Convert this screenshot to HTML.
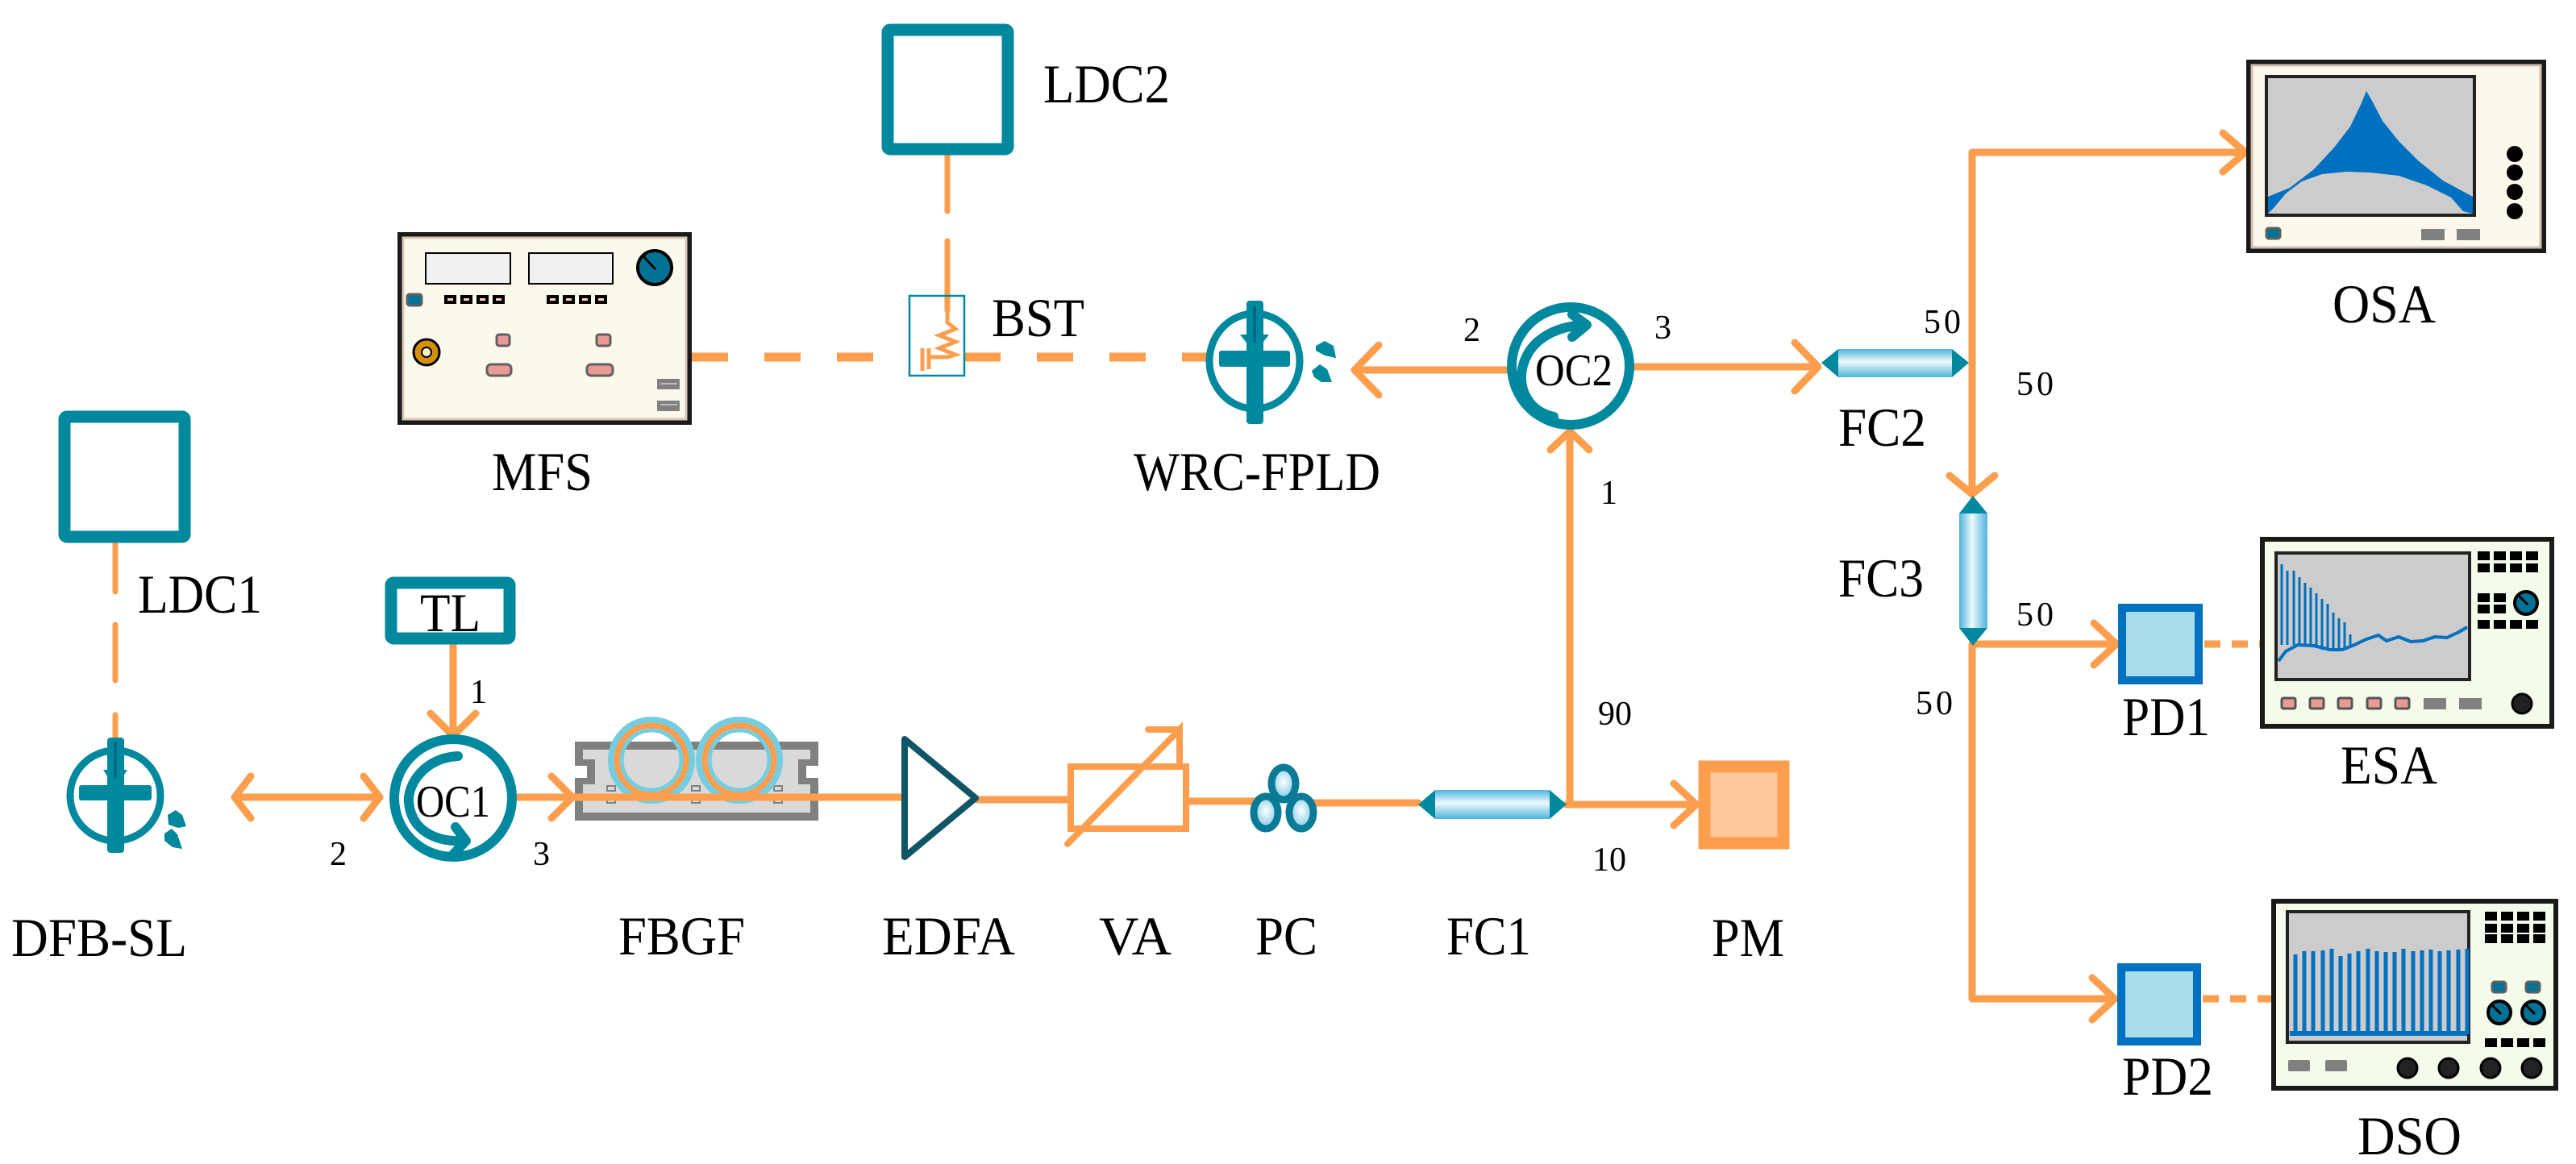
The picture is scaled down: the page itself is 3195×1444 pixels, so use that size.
<!DOCTYPE html>
<html><head><meta charset="utf-8">
<style>
html,body{margin:0;padding:0;background:#fff;}
svg{display:block;}
text{font-family:"Liberation Serif","DejaVu Serif",serif;fill:#000;}
</style></head>
<body>
<svg width="3195" height="1444" viewBox="0 0 3195 1444" xmlns="http://www.w3.org/2000/svg">
<defs>
<linearGradient id="cpl" x1="0" y1="0" x2="0" y2="1">
<stop offset="0" stop-color="#4fb3dc"/><stop offset="0.45" stop-color="#eef9fd"/><stop offset="1" stop-color="#4fb3dc"/>
</linearGradient>
<linearGradient id="cplv" x1="0" y1="0" x2="1" y2="0">
<stop offset="0" stop-color="#4fb3dc"/><stop offset="0.45" stop-color="#eef9fd"/><stop offset="1" stop-color="#4fb3dc"/>
</linearGradient>
<radialGradient id="pcg" cx="0.5" cy="0.45" r="0.6">
<stop offset="0" stop-color="#ffffff"/><stop offset="1" stop-color="#6cc3e0"/>
</radialGradient>
</defs>

<g fill="none" stroke="#fd9e4e" stroke-linecap="round" stroke-linejoin="round">
<path d="M1175 192 V262 M1175 299 V385" stroke-width="7"/>
<path d="M858 443 H1128 M1196 443 H1497" stroke-width="11" stroke-dasharray="45 45" stroke-linecap="butt"/>
<path d="M143 673 V734 M143 775 V844 M143 887 V915" stroke-width="7"/>
<path d="M1869 459 H1680 M1710 428 L1680 459 L1710 490" stroke-width="9"/>
<path d="M2027 455 H2255 M2226 425 L2255 455 L2226 485" stroke-width="9"/>
<path d="M2446 452 V189 H2783 M2757 165 L2785 189 L2757 213" stroke-width="9"/>
<path d="M2446 452 V613 M2418 590 L2446 613 L2474 590" stroke-width="9"/>
<path d="M2446 801 V1239 H2621 M2446 799 H2623 M2597 773 L2625 799 L2597 825 M2595 1213 L2623 1239 L2595 1265" stroke-width="9"/>
<path d="M2734 799 H2804 M2732 1239 H2817" stroke-width="9" stroke-dasharray="20 14" stroke-linecap="butt"/>
<path d="M1947 998 V535 M1923 558 L1947 535 L1971 558" stroke-width="9"/>
<path d="M1943 998 H2102 M2076 972 L2104 998 L2076 1024" stroke-width="9"/>
<path d="M562 800 V911 M534 885 L562 913 L590 885" stroke-width="9"/>
<path d="M291 989 H471 M311 963 L291 989 L311 1015 M451 963 L471 989 L451 1015" stroke-width="9"/>
<path d="M641 989 H710 M684 963 L710 989 L684 1015" stroke-width="9"/>
</g>

<path d="M713 920 H1015 V950 H1000 V965 H1015 V1018 H713 V965 H728 V950 H713 Z" fill="#808080"/>
<path d="M723 930 H1005 V942 H990 V973 H1005 V1008 H723 V973 H738 V942 H723 Z" fill="#d9d9d9"/>
<g fill="#d9d9d9" stroke="#808080" stroke-width="2">
<rect x="753" y="975" width="10" height="6"/><rect x="753" y="990" width="10" height="6"/>
<rect x="858" y="975" width="10" height="6"/><rect x="858" y="990" width="10" height="6"/>
<rect x="960" y="975" width="10" height="6"/><rect x="960" y="990" width="10" height="6"/>
</g>
<g fill="none">
<circle cx="808" cy="943" r="50" stroke="#74cde0" stroke-width="8"/>
<circle cx="808" cy="943" r="43" stroke="#fd9e4e" stroke-width="7"/>
<circle cx="808" cy="943" r="37" stroke="#74cde0" stroke-width="5"/>
<circle cx="917" cy="943" r="50" stroke="#74cde0" stroke-width="8"/>
<circle cx="917" cy="943" r="43" stroke="#fd9e4e" stroke-width="7"/>
<circle cx="917" cy="943" r="37" stroke="#74cde0" stroke-width="5"/>
</g>
<g fill="none" stroke="#fd9e4e" stroke-width="9" stroke-linecap="round">
<path d="M700 989 H1120"/>
<path d="M1212 992 H1324 M1473 994 H1570 M1614 996 H1759"/>
<rect x="1328" y="951" width="143" height="77" stroke-width="8"/>
<path d="M1324 1047 L1463 905 V947 M1424 905 H1463" stroke-width="8"/>
</g>
<path d="M1122 917 L1210 990 L1122 1063 Z" fill="none" stroke="#0e5566" stroke-width="8" stroke-linejoin="round"/>
<g stroke="#0a7a96" stroke-width="9" fill="url(#pcg)">
<ellipse cx="1592" cy="972" rx="15" ry="20"/>
<ellipse cx="1570" cy="1008" rx="15" ry="20"/>
<ellipse cx="1614" cy="1008" rx="15" ry="20"/>
</g>
<path d="M1759 998 L1780 980 H1922 L1943 998 L1922 1016 H1780 Z" fill="#00889e"/>
<rect x="1780" y="980" width="142" height="36" fill="url(#cpl)"/>
<path d="M2259 450 L2280 433 H2421 L2442 450 L2421 468 H2280 Z" fill="#00889e"/>
<rect x="2280" y="433" width="141" height="35" fill="url(#cpl)"/>
<path d="M2447 615 L2465 637 V779 L2447 801 L2430 779 V637 Z" fill="#00889e"/>
<rect x="2430" y="637" width="35" height="142" fill="url(#cplv)"/>

<rect x="2114" y="951" width="98" height="95" fill="#ffc59b" stroke="#fd9e4e" stroke-width="15"/>
<rect x="2632" y="754" width="95" height="90" fill="#a6dde8" stroke="#0070c0" stroke-width="10"/>
<rect x="2631" y="1200" width="94" height="92" fill="#a6dde8" stroke="#0070c0" stroke-width="10"/>

<g fill="#fff" stroke="#00889e" stroke-width="15">
<rect x="1101" y="37" width="149" height="148" rx="3"/>
<rect x="80" y="517" width="149" height="149" rx="3"/>
<rect x="485" y="723" width="147" height="69" rx="3"/>
</g>

<rect x="1128" y="367" width="68" height="99" fill="none" stroke="#00889e" stroke-width="2.5"/>
<g fill="none" stroke="#fd9e4e" stroke-width="5">
<path d="M1175 385 V400 L1185 408 L1165 416 L1185 424 L1165 432 L1185 440 L1175 443 H1152"/>
<path d="M1144 432 V460 M1152 432 V458"/>
</g>

<rect x="496" y="291" width="359" height="233" fill="#fdf8ec" stroke="#1a1a1a" stroke-width="6"/>
<rect x="500" y="295" width="351" height="225" fill="none" stroke="#d8c8b8" stroke-width="3"/>
<g stroke="#000" stroke-width="2" fill="#f0f0f0">
<rect x="528" y="314" width="105" height="38"/><rect x="656" y="314" width="104" height="38"/>
</g>
<circle cx="812" cy="332" r="21" fill="#007296" stroke="#000" stroke-width="4"/>
<path d="M798 318 L813 334" stroke="#000" stroke-width="3"/>
<g fill="#000">
<rect x="551" y="366" width="15" height="11"/><rect x="571" y="366" width="15" height="11"/><rect x="591" y="366" width="15" height="11"/><rect x="611" y="366" width="15" height="11"/>
<rect x="678" y="366" width="15" height="11"/><rect x="698" y="366" width="15" height="11"/><rect x="718" y="366" width="15" height="11"/><rect x="738" y="366" width="15" height="11"/>
</g>
<g fill="#ffd8b8">
<rect x="555" y="370" width="7" height="3"/><rect x="575" y="370" width="7" height="3"/><rect x="595" y="370" width="7" height="3"/><rect x="615" y="370" width="7" height="3"/>
<rect x="682" y="370" width="7" height="3"/><rect x="702" y="370" width="7" height="3"/><rect x="722" y="370" width="7" height="3"/><rect x="742" y="370" width="7" height="3"/>
</g>
<rect x="505" y="365" width="18" height="14" rx="3" fill="#007296" stroke="#606060" stroke-width="3"/>
<circle cx="529" cy="437" r="16" fill="#d4900a" stroke="#000" stroke-width="3"/>
<circle cx="529" cy="437" r="6" fill="#fdf3d0" stroke="#000" stroke-width="2"/>
<g fill="#e99a94" stroke="#606060" stroke-width="3">
<rect x="616" y="415" width="16" height="14" rx="3"/><rect x="740" y="415" width="17" height="14" rx="3"/>
<rect x="604" y="452" width="30" height="14" rx="5"/><rect x="728" y="452" width="32" height="14" rx="5"/>
</g>
<g fill="#808080"><rect x="815" y="470" width="28" height="13"/><rect x="815" y="497" width="28" height="13"/></g>
<path d="M819 476 H840 M819 502 H840" stroke="#d0d0d0" stroke-width="1.5"/>

<g fill="none" stroke="#00889e" stroke-width="9">
<ellipse cx="143" cy="987" rx="56" ry="56"/>
<ellipse cx="1556" cy="448" rx="56" ry="59"/>
</g>
<g fill="#00889e">
<rect x="133" y="915" width="21" height="143" rx="4"/>
<rect x="98" y="974" width="90" height="19" rx="3"/>
<path d="M128 955 L158 955 L143 978 Z"/>
<path d="M208 1011 l10 -6 l8 6 l5 14 l-10 2 l-12 -4 z M204 1034 l9 -6 l7 7 l6 18 l-12 -2 l-10 -8 z"/>
<rect x="1546" y="373" width="21" height="153" rx="4"/>
<rect x="1512" y="435" width="88" height="20" rx="3"/>
<path d="M1538 415 L1574 415 L1556 438 Z"/>
<path d="M1632 429 l11 -6 l11 6 l3 15 l-14 -3 l-11 -6 z M1627 460 l10 -8 l9 6 l6 16 l-13 0 l-9 -6 z"/>
</g>
<path d="M143 920 V965 M1556 380 V425" stroke="#006080" stroke-width="3"/>

<g fill="none" stroke="#00889e" stroke-width="12" stroke-linecap="round" stroke-linejoin="round">
<circle cx="562" cy="990" r="73"/>
<path d="M568 938 C525 940 505 975 507 995 C510 1030 540 1045 575 1043"/>
<path d="M562 1060 L578 1043 L565 1026"/>
<circle cx="1948" cy="454" r="73"/>
<path d="M1927 517 C1895 510 1880 480 1890 450 C1900 420 1930 405 1965 403"/>
<path d="M1950 390 L1968 403 L1950 418"/>
</g>

<!-- OSA -->
<rect x="2789" y="77" width="366" height="234" fill="#fdf8ec" stroke="#1a1a1a" stroke-width="6"/>
<rect x="2793" y="81" width="358" height="226" fill="none" stroke="#cdbfb0" stroke-width="3"/>
<rect x="2811" y="95" width="258" height="172" fill="#cccccc" stroke="#222" stroke-width="4"/>
<path d="M2813 244 L2840 233 L2870 210 L2895 183 L2915 157 L2928 130 L2935 113 L2942 125 L2955 150 L2975 175 L3000 200 L3030 224 L3067 244 L3067 265 L3055 262 L3040 245 L3010 230 L2975 218 L2940 214 L2910 213 L2880 216 L2855 225 L2835 240 L2820 258 L2813 265 Z" fill="#0070c0"/>
<g fill="#000"><circle cx="3119" cy="191" r="10"/><circle cx="3119" cy="214" r="10"/><circle cx="3119" cy="238" r="10"/><circle cx="3119" cy="262" r="10"/></g>
<rect x="2811" y="283" width="17" height="13" rx="3" fill="#007296" stroke="#606060" stroke-width="3"/>
<g fill="#808080"><rect x="3003" y="284" width="29" height="14"/><rect x="3047" y="284" width="29" height="14"/></g>

<!-- ESA -->
<rect x="2806" y="669" width="359" height="232" fill="#f4fbea" stroke="#1a1a1a" stroke-width="6"/>
<rect x="2823" y="686" width="240" height="157" fill="#cccccc" stroke="#222" stroke-width="4"/>
<g stroke="#0070c0" stroke-width="3">
<path d="M2830 800 V700 M2837 800 V708 M2845 800 V708 M2852 800 V716 M2859 802 V723 M2866 803 V729 M2873 804 V736 M2880 806 V743 M2887 806 V749 M2894 806 V760 M2901 805 V767 M2908 804 V772 M2915 803 V787"/>
</g>
<path d="M2826 820 L2835 808 L2850 800 L2870 801 L2890 806 L2905 806 L2920 800 L2935 793 L2950 788 L2960 795 L2975 790 L2990 796 L3005 795 L3020 790 L3035 791 L3050 784 L3060 778" fill="none" stroke="#0070c0" stroke-width="4"/>
<g fill="#000">
<rect x="3073" y="684" width="15" height="11"/><rect x="3093" y="684" width="15" height="11"/><rect x="3113" y="684" width="15" height="11"/><rect x="3133" y="684" width="15" height="11"/>
<rect x="3073" y="699" width="15" height="11"/><rect x="3093" y="699" width="15" height="11"/><rect x="3113" y="699" width="15" height="11"/><rect x="3133" y="699" width="15" height="11"/>
<rect x="3073" y="736" width="15" height="11"/><rect x="3093" y="736" width="15" height="11"/>
<rect x="3073" y="750" width="15" height="11"/><rect x="3093" y="750" width="15" height="11"/>
<rect x="3073" y="769" width="15" height="11"/><rect x="3093" y="769" width="15" height="11"/><rect x="3113" y="769" width="15" height="11"/><rect x="3133" y="769" width="15" height="11"/>
</g>
<circle cx="3133" cy="748" r="14" fill="#007296" stroke="#000" stroke-width="4"/>
<path d="M3124 739 L3135 750" stroke="#000" stroke-width="3"/>
<g fill="#e99a94" stroke="#555" stroke-width="3">
<rect x="2830" y="866" width="17" height="13" rx="2"/><rect x="2865" y="866" width="17" height="13" rx="2"/><rect x="2900" y="866" width="17" height="13" rx="2"/><rect x="2936" y="866" width="17" height="13" rx="2"/><rect x="2971" y="866" width="17" height="13" rx="2"/>
</g>
<g fill="#808080"><rect x="3006" y="866" width="28" height="14"/><rect x="3050" y="866" width="28" height="14"/></g>
<circle cx="3128" cy="873" r="12" fill="#222" stroke="#000" stroke-width="3"/>

<!-- DSO -->
<rect x="2820" y="1118" width="350" height="232" fill="#f4fbea" stroke="#1a1a1a" stroke-width="6"/>
<rect x="2837" y="1131" width="225" height="162" fill="#cccccc" stroke="#222" stroke-width="4"/>
<g stroke="#0070c0" stroke-width="5">
<path d="M2847 1283 V1184 M2858 1283 V1180 M2869 1283 V1180 M2881 1283 V1179 M2892 1283 V1177 M2903 1283 V1186 M2914 1283 V1183 M2925 1283 V1180 M2937 1283 V1177 M2948 1283 V1180 M2959 1283 V1181 M2970 1283 V1181 M2981 1283 V1177 M2993 1283 V1180 M3004 1283 V1179 M3015 1283 V1178 M3026 1283 V1180 M3037 1283 V1179 M3049 1283 V1178 M3060 1283 V1177"/>
</g>
<path d="M2840 1282 H3060" stroke="#0070c0" stroke-width="6"/>
<g fill="#000">
<rect x="3082" y="1131" width="15" height="11"/><rect x="3102" y="1131" width="15" height="11"/><rect x="3122" y="1131" width="15" height="11"/><rect x="3142" y="1131" width="15" height="11"/>
<rect x="3082" y="1146" width="15" height="11"/><rect x="3102" y="1146" width="15" height="11"/><rect x="3122" y="1146" width="15" height="11"/><rect x="3142" y="1146" width="15" height="11"/>
<rect x="3082" y="1159" width="15" height="11"/><rect x="3102" y="1159" width="15" height="11"/><rect x="3122" y="1159" width="15" height="11"/><rect x="3142" y="1159" width="15" height="11"/>
<rect x="3082" y="1288" width="15" height="11"/><rect x="3102" y="1288" width="15" height="11"/><rect x="3122" y="1288" width="15" height="11"/><rect x="3142" y="1288" width="15" height="11"/>
</g>
<g fill="#007296" stroke="#606060" stroke-width="3"><rect x="3091" y="1218" width="17" height="13" rx="3"/><rect x="3133" y="1218" width="17" height="13" rx="3"/></g>
<g fill="#007296" stroke="#000" stroke-width="4"><circle cx="3100" cy="1256" r="14"/><circle cx="3142" cy="1256" r="14"/></g>
<path d="M3091 1247 L3102 1258 M3133 1247 L3144 1258" stroke="#000" stroke-width="3"/>
<g fill="#808080"><rect x="2838" y="1315" width="27" height="14" rx="2"/><rect x="2884" y="1315" width="27" height="14" rx="2"/></g>
<g fill="#222" stroke="#000" stroke-width="3"><circle cx="2986" cy="1325" r="12"/><circle cx="3037" cy="1325" r="12"/><circle cx="3089" cy="1325" r="12"/><circle cx="3140" cy="1325" r="12"/></g>

<g font-size="68" font-family="Liberation Serif, DejaVu Serif, serif">
<text x="1294" y="127" textLength="157" lengthAdjust="spacingAndGlyphs">LDC2</text>
<text x="1230" y="417" textLength="115" lengthAdjust="spacingAndGlyphs">BST</text>
<text x="610" y="608" textLength="125" lengthAdjust="spacingAndGlyphs">MFS</text>
<text x="1406" y="608" textLength="306" lengthAdjust="spacingAndGlyphs">WRC-FPLD</text>
<text x="171" y="760" textLength="154" lengthAdjust="spacingAndGlyphs">LDC1</text>
<text x="521" y="783" textLength="75" lengthAdjust="spacingAndGlyphs">TL</text>
<text x="14" y="1186" textLength="218" lengthAdjust="spacingAndGlyphs">DFB-SL</text>
<text x="767" y="1184" textLength="157" lengthAdjust="spacingAndGlyphs">FBGF</text>
<text x="1094" y="1184" textLength="165" lengthAdjust="spacingAndGlyphs">EDFA</text>
<text x="1363" y="1184" textLength="90" lengthAdjust="spacingAndGlyphs">VA</text>
<text x="1557" y="1184" textLength="77" lengthAdjust="spacingAndGlyphs">PC</text>
<text x="1794" y="1184" textLength="105" lengthAdjust="spacingAndGlyphs">FC1</text>
<text x="2123" y="1186" textLength="90" lengthAdjust="spacingAndGlyphs">PM</text>
<text x="2893" y="400" textLength="128" lengthAdjust="spacingAndGlyphs">OSA</text>
<text x="2280" y="553" textLength="109" lengthAdjust="spacingAndGlyphs">FC2</text>
<text x="2280" y="740" textLength="106" lengthAdjust="spacingAndGlyphs">FC3</text>
<text x="2632" y="912" textLength="109" lengthAdjust="spacingAndGlyphs">PD1</text>
<text x="2903" y="972" textLength="120" lengthAdjust="spacingAndGlyphs">ESA</text>
<text x="2632" y="1358" textLength="113" lengthAdjust="spacingAndGlyphs">PD2</text>
<text x="2924" y="1432" textLength="129" lengthAdjust="spacingAndGlyphs">DSO</text>
</g>
<g font-size="56" font-family="Liberation Serif, DejaVu Serif, serif">
<text x="516" y="1013" textLength="92" lengthAdjust="spacingAndGlyphs">OC1</text>
<text x="1904" y="478" textLength="96" lengthAdjust="spacingAndGlyphs">OC2</text>
</g>
<g font-size="42" font-family="Liberation Serif, DejaVu Serif, serif">
<text x="583" y="872">1</text>
<text x="409" y="1073">2</text>
<text x="661" y="1073">3</text>
<text x="1815" y="423">2</text>
<text x="2052" y="420">3</text>
<text x="1985" y="625">1</text>
<text x="1982" y="899">90</text>
<text x="1975" y="1080">10</text>
<text x="2386" y="413" letter-spacing="4">50</text>
<text x="2501" y="490" letter-spacing="4">50</text>
<text x="2501" y="776" letter-spacing="4">50</text>
<text x="2376" y="886" letter-spacing="4">50</text>
</g>
</svg>
</body></html>
